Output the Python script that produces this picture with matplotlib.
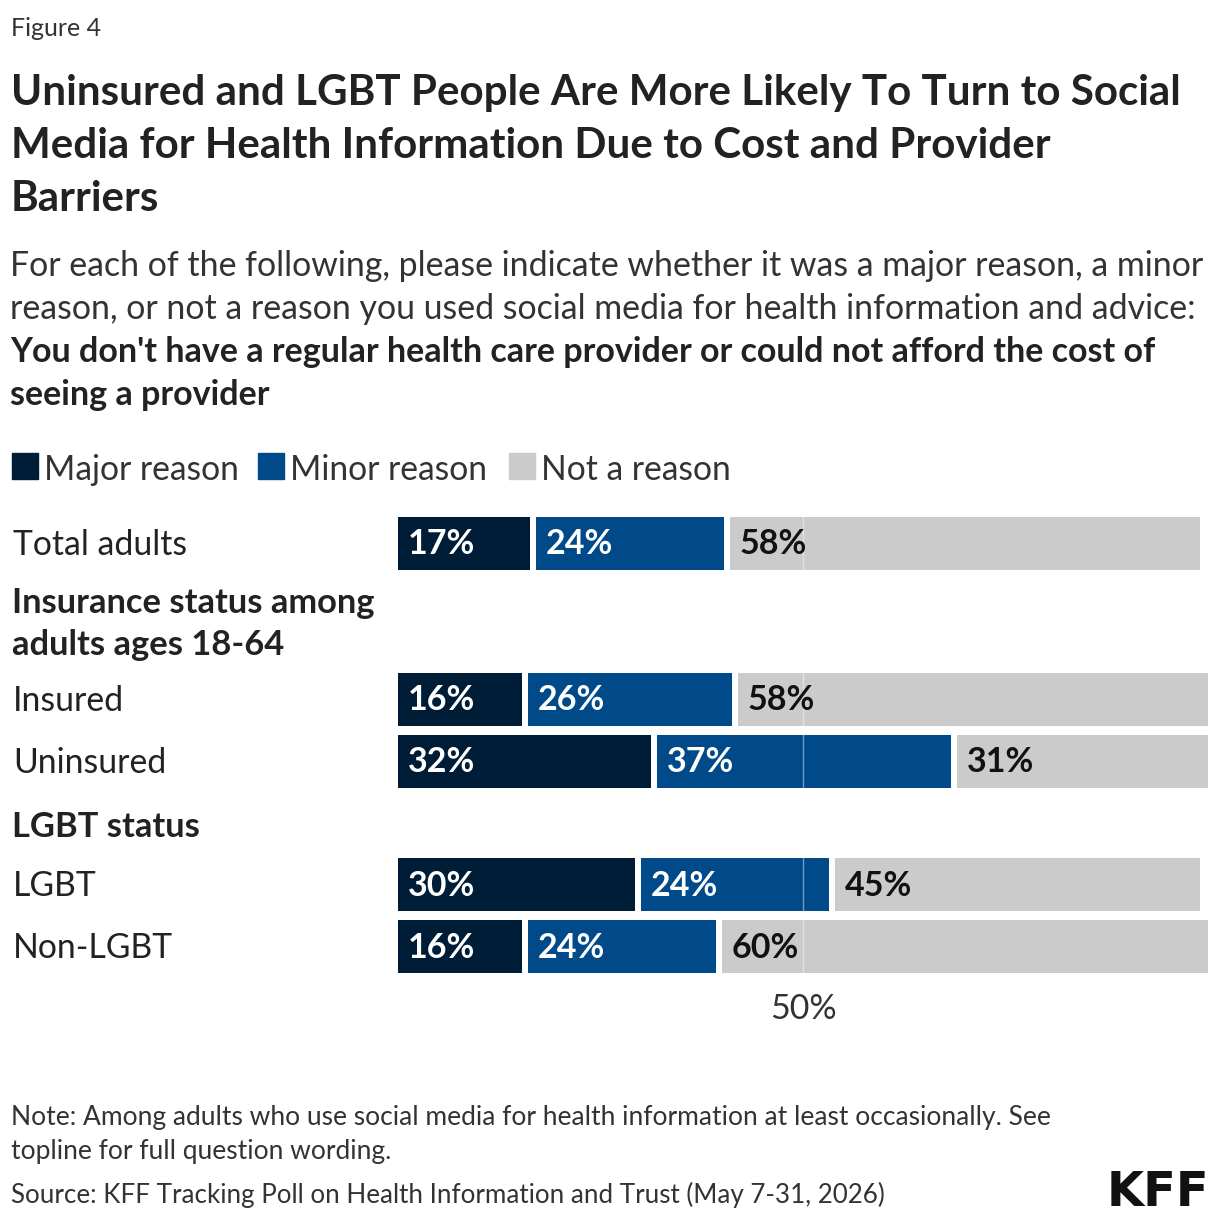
import matplotlib
matplotlib.use('Agg')
import matplotlib.pyplot as plt
from matplotlib.patches import Rectangle

# ── Data ──────────────────────────────────────────────────────────────────────
categories = ['Total adults', 'Insured', 'Uninsured', 'LGBT', 'Non-LGBT']
major      = [17, 16, 32, 30, 16]
minor      = [24, 26, 37, 24, 24]
not_reason = [58, 58, 31, 45, 60]
series_names = ['Major reason', 'Minor reason', 'Not a reason']
group_headers = [['Insurance status among', 'adults ages 18-64'], ['LGBT status']]

# ── Style / layout (pixels) ───────────────────────────────────────────────────
W, H = 1220, 1222
COLORS = ['#001D37', '#004A89', '#CBCBCB']
LABEL_COLORS = ['white', 'white', '#111111']
FONT = 'Lato'
ROW_Y = [543, 699, 761, 884, 946]
HEADER_Y = [[601, 643], [825]]
BAR_H = 53
GAP = 6 / 8.1          # white gap between segments, in percent units
AX_X0, AX_X1 = 398, 1208
AX_Y0, AX_Y1 = 500, 1030

plt.rcParams['font.family'] = [FONT, 'DejaVu Sans']

fig = plt.figure(figsize=(W / 100, H / 100), dpi=100)


def ftext(x, y, s, **kw):
    fig.text(x / W, 1 - y / H, s, va='center', **kw)


ax = fig.add_axes([AX_X0 / W, 1 - AX_Y1 / H, (AX_X1 - AX_X0) / W, (AX_Y1 - AX_Y0) / H])
ax.set_xlim(0, 100)
ax.set_ylim(AX_Y1, AX_Y0)
ax.axis('off')

for i, cat in enumerate(categories):
    left = 0
    segs = [major[i], minor[i], not_reason[i]]
    for j, v in enumerate(segs):
        w = v - GAP if j < len(segs) - 1 else v
        ax.barh(ROW_Y[i], w, left=left, height=BAR_H, color=COLORS[j], zorder=2)
        ax.text(left + 1.2, ROW_Y[i] + 1.5, f'{v}%', color=LABEL_COLORS[j],
                fontsize=24.5, fontweight='bold', va='center', ha='left', zorder=4)
        left += v
    ftext(13, ROW_Y[i] + 2, cat, fontsize=24.3, color='#222222', ha='left')

# 50% reference line and tick
ax.plot([50, 50], [ROW_Y[0] - BAR_H / 2, ROW_Y[-1] + BAR_H / 2],
        color='white', alpha=0.45, lw=1, zorder=3)
ax.text(50, 1009, '50%', fontsize=24.5, color='#333333', ha='center', va='center')

for lines, ys in zip(group_headers, HEADER_Y):
    for s, y in zip(lines, ys):
        ftext(12, y + 2, s, fontsize=24.8, fontweight='bold', color='#222222', ha='left')

# ── Titles ────────────────────────────────────────────────────────────────────
ftext(11, 28, 'Figure 4', fontsize=18, color='#333333')
title = ['Uninsured and LGBT People Are More Likely To Turn to Social',
         'Media for Health Information Due to Cost and Provider',
         'Barriers']
for k, s in enumerate(title):
    ftext(11, 93 + 53 * k, s, fontsize=30.3, fontweight='bold', color='#222222')

sub = ['For each of the following, please indicate whether it was a major reason, a minor',
       'reason, or not a reason you used social media for health information and advice:']
for k, s in enumerate(sub):
    ftext(10, 266 + 43 * k, s, fontsize=24.4, color='#333333')
sub_bold = ["You don't have a regular health care provider or could not afford the cost of",
            'seeing a provider']
for k, s in enumerate(sub_bold):
    ftext(10, 352 + 43 * k, s, fontsize=24.5, fontweight='bold', color='#222222')

# ── Legend ────────────────────────────────────────────────────────────────────
leg_x = [12, 258, 509]
for name, c, x in zip(series_names, COLORS, leg_x):
    fig.patches.append(Rectangle((x / W, 1 - 479 / H), 26 / W, 26 / H,
                                 color=c, transform=fig.transFigure, figure=fig))
    ftext(x + 32, 470, name, fontsize=24.2, color='#333333')

# ── Footer ────────────────────────────────────────────────────────────────────
ftext(11, 1117, 'Note: Among adults who use social media for health information at least occasionally. See',
      fontsize=19, color='#333333')
ftext(11, 1151, 'topline for full question wording.', fontsize=19, color='#333333')
ftext(11, 1195, 'Source: KFF Tracking Poll on Health Information and Trust (May 7-31, 2026)',
      fontsize=18.7, color='#333333')
fig.text(1209 / W, 1 - 1192 / H, 'KFF', fontsize=34.5, fontweight='heavy',
         family='DejaVu Sans', color='#111111', ha='right', va='center')

fig.savefig('out.png', dpi=100)
